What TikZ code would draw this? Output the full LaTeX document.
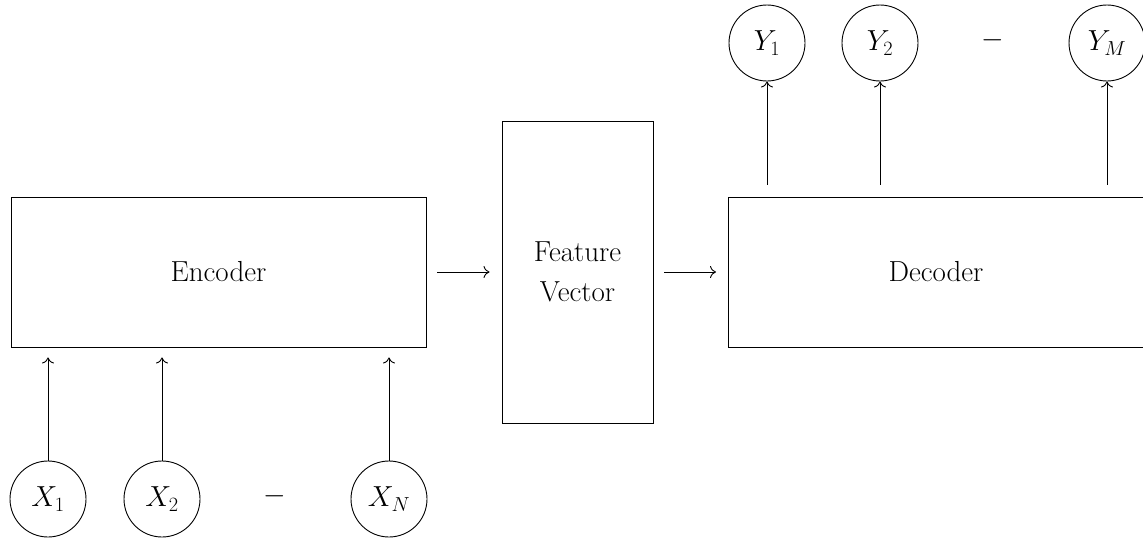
\RequirePackage{fix-cm}
\documentclass[tikz,border=0pt]{standalone}
\usetikzlibrary{arrows.meta}
\begin{document}
\begin{tikzpicture}[x=1pt,y=-1pt,
  font=\fontsize{29}{40}\selectfont,
  every path/.style={line width=0.9pt},
  block/.style={draw, rectangle, inner sep=0pt, align=center},
  var/.style={draw, circle, minimum size=76pt, inner sep=0pt},
  flow/.style={-{To[length=6pt,width=12pt]}}]
  \useasboundingbox (0,0) rectangle (1143,538);

  % main blocks
  \node[block, minimum width=415pt, minimum height=150pt] (enc) at (218.5,272) {Encoder};
  \node[block, minimum width=151pt, minimum height=302pt] (fv) at (577.5,272) {Feature\\Vector};
  \node[block, minimum width=415pt, minimum height=150pt] (dec) at (936,272) {Decoder};

  % inputs
  \node[var] (x1) at (48,499) {$X_1$};
  \node[var] (x2) at (162,499) {$X_2$};
  \node (xdots) at (275,496) {$-$};
  \node[var] (xn) at (389,499) {$X_N$};

  % outputs
  \node[var] (y1) at (767,43) {$Y_1$};
  \node[var] (y2) at (880,43) {$Y_2$};
  \node (ydots) at (993,40) {$-$};
  \node[var] (ym) at (1107,43) {$Y_M$};

  % connections
  \draw[flow, shorten <=11pt, shorten >=12pt] (enc) -- (fv);
  \draw[flow, shorten <=11pt, shorten >=12pt] (fv) -- (dec);
  \foreach \v in {x1,x2,xn}
    \draw[flow, shorten >=10pt] (\v.north) -- (\v |- enc.south);
  \foreach \v in {y1,y2,ym}
    \draw[flow, shorten <=12pt] (\v |- dec.north) -- (\v.south);
\end{tikzpicture}
\end{document}
